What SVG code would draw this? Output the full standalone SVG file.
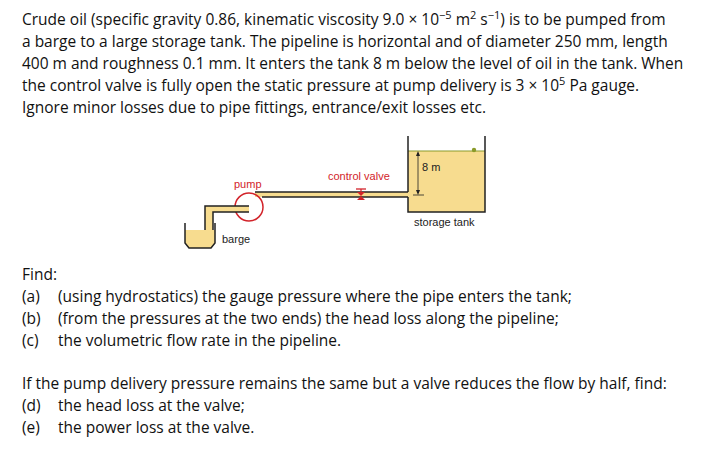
<svg xmlns="http://www.w3.org/2000/svg" width="706" height="473" viewBox="0 0 706 473">
<style>
.t{font-family:"Open Sans","Liberation Sans",sans-serif;font-size:15.5px;fill:#111}
.s{font-family:"Liberation Sans",sans-serif;font-size:11px;fill:#222}
.r{font-family:"Liberation Sans",sans-serif;font-size:11px;fill:#d2232a}
.w{fill:none;stroke:#222;stroke-width:1.5}
.oil{fill:#f7dc8f}
</style>
<rect width="706" height="473" fill="#fff"/>
<g id="text">
<text class="t" x="22" y="25">Crude oil (specific gravity 0.86, kinematic viscosity 9.0 × 10<tspan dy="-6" font-size="11">−5</tspan><tspan dy="6"> m</tspan><tspan dy="-6" font-size="11">2</tspan><tspan dy="6"> s</tspan><tspan dy="-6" font-size="11">−1</tspan><tspan dy="6">) is to be pumped from</tspan></text>
<text class="t" x="22" y="47">a barge to a large storage tank. The pipeline is horizontal and of diameter 250 mm, length</text>
<text class="t" x="22" y="69">400 m and roughness 0.1 mm. It enters the tank 8 m below the level of oil in the tank. When</text>
<text class="t" x="22" y="91">the control valve is fully open the static pressure at pump delivery is 3 × 10<tspan dy="-6" font-size="11">5</tspan><tspan dy="6"> Pa gauge.</tspan></text>
<text class="t" x="22" y="113">Ignore minor losses due to pipe fittings, entrance/exit losses etc.</text>
<text class="t" x="22" y="280">Find:</text>
<text class="t" x="22" y="302">(a)</text><text class="t" x="58" y="302">(using hydrostatics) the gauge pressure where the pipe enters the tank;</text>
<text class="t" x="22" y="324">(b)</text><text class="t" x="58" y="324">(from the pressures at the two ends) the head loss along the pipeline;</text>
<text class="t" x="22" y="346">(c)</text><text class="t" x="58" y="346">the volumetric flow rate in the pipeline.</text>
<text class="t" x="22" y="389">If the pump delivery pressure remains the same but a valve reduces the flow by half, find:</text>
<text class="t" x="22" y="411">(d)</text><text class="t" x="58" y="411">the head loss at the valve;</text>
<text class="t" x="22" y="433">(e)</text><text class="t" x="58" y="433">the power loss at the valve.</text>
</g>
<g id="tank">
<rect class="oil" x="408" y="151" width="77" height="61"/>
<line x1="408" y1="151" x2="485" y2="151" stroke="#8a9a2a" stroke-width="1"/>
<circle cx="474" cy="150" r="2.2" fill="#8a9a2a"/>
<polyline class="w" points="408,136 408,192"/>
<polyline class="w" points="408,197 408,212 485,212 485,136"/>
<line x1="418" y1="153" x2="418" y2="193" stroke="#222" stroke-width="0.8"/>
<polygon points="418,151 416,156 420,156" fill="#222"/>
<polygon points="418,195 416,190 420,190" fill="#222"/>
<line x1="413" y1="195" x2="424" y2="195" stroke="#222" stroke-width="0.8"/>
<text class="s" x="422" y="171">8 m</text>
<text class="s" x="414" y="226">storage tank</text>
</g>
<g id="pipe">
<rect class="oil" x="255" y="192" width="153" height="5"/>
<line class="w" x1="255" y1="192" x2="408" y2="192"/>
<line class="w" x1="262" y1="197" x2="408" y2="197"/>
</g>
<g id="valve">
<line x1="361" y1="189" x2="361" y2="194" stroke="#d2232a" stroke-width="1.2"/>
<line x1="356" y1="189" x2="366" y2="189" stroke="#d2232a" stroke-width="1.3"/>
<polygon points="357,192 365,192 361,196 365,200 357,200 361,196" fill="#d2232a"/>
<text class="r" x="328" y="180">control valve</text>
</g>
<g id="pump">
<circle cx="249" cy="207" r="14" fill="none" stroke="#d2232a" stroke-width="1.5"/>
<text class="r" x="234" y="188">pump</text>
</g>
<g id="inlet">
<path class="oil" d="M205,206 H249 V212 H213 V236 H205 Z"/>
<polyline class="w" points="249,206 205,206 205,236"/>
<polyline class="w" points="249,212 213,212 213,236"/>
</g>
<g id="barge">
<path class="oil" d="M185,230 H215 V243 L211,248 H189 L185,243 Z"/>
<polyline class="w" points="185,223 185,243 189,248 211,248 215,243 215,223"/>
<text class="s" x="222" y="243">barge</text>
</g>
</svg>
